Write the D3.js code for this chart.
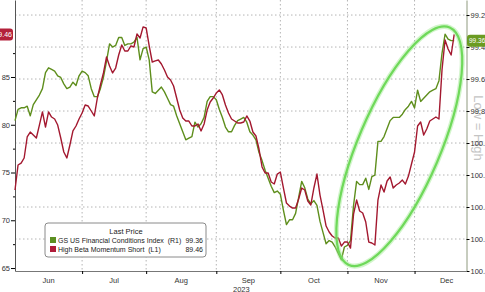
<!DOCTYPE html>
<html lang="en">
<head>
<meta charset="UTF-8">
<title>FCI vs High Beta Momentum</title>
<script src="https://cdn.jsdelivr.net/npm/d3@7/dist/d3.min.js"></script>
<style>
  body { margin: 0; background: #fff; }
  svg { display: block; font-family: "Liberation Sans", Arial, sans-serif; }
</style>
</head>
<body>
<script>
// business days, Jun 1 -> Dec 20 2023
var dates = [
  "2023-06-01","2023-06-02","2023-06-05","2023-06-06","2023-06-07","2023-06-08","2023-06-09","2023-06-12","2023-06-13","2023-06-14","2023-06-15","2023-06-16","2023-06-19","2023-06-20","2023-06-21","2023-06-22","2023-06-23","2023-06-26","2023-06-27","2023-06-28","2023-06-29","2023-06-30",
  "2023-07-03","2023-07-04","2023-07-05","2023-07-06","2023-07-07","2023-07-10","2023-07-11","2023-07-12","2023-07-13","2023-07-14","2023-07-17","2023-07-18","2023-07-19","2023-07-20","2023-07-21","2023-07-24","2023-07-25","2023-07-26","2023-07-27","2023-07-28","2023-07-31",
  "2023-08-01","2023-08-02","2023-08-03","2023-08-04","2023-08-07","2023-08-08","2023-08-09","2023-08-10","2023-08-11","2023-08-14","2023-08-15","2023-08-16","2023-08-17","2023-08-18","2023-08-21","2023-08-22","2023-08-23","2023-08-24","2023-08-25","2023-08-28","2023-08-29","2023-08-30","2023-08-31",
  "2023-09-01","2023-09-04","2023-09-05","2023-09-06","2023-09-07","2023-09-08","2023-09-11","2023-09-12","2023-09-13","2023-09-14","2023-09-15","2023-09-18","2023-09-19","2023-09-20","2023-09-21","2023-09-22","2023-09-25","2023-09-26","2023-09-27","2023-09-28","2023-09-29",
  "2023-10-02","2023-10-03","2023-10-04","2023-10-05","2023-10-06","2023-10-09","2023-10-10","2023-10-11","2023-10-12","2023-10-13","2023-10-16","2023-10-17","2023-10-18","2023-10-19","2023-10-20","2023-10-23","2023-10-24","2023-10-25","2023-10-26","2023-10-27","2023-10-30","2023-10-31",
  "2023-11-01","2023-11-02","2023-11-03","2023-11-06","2023-11-07","2023-11-08","2023-11-09","2023-11-10","2023-11-13","2023-11-14","2023-11-15","2023-11-16","2023-11-17","2023-11-20","2023-11-21","2023-11-22","2023-11-23","2023-11-24","2023-11-27","2023-11-28","2023-11-29","2023-11-30",
  "2023-12-01","2023-12-04","2023-12-05","2023-12-06","2023-12-07","2023-12-08","2023-12-11","2023-12-12","2023-12-13","2023-12-14","2023-12-15","2023-12-18","2023-12-19","2023-12-20"
];

// GS US Financial Conditions Index (R1, inverted)
var fci = [
  99.86,99.79,99.78,99.78,99.77,99.83,99.76,99.73,99.70,99.66,99.56,99.53,99.54,99.55,99.58,99.59,99.63,99.66,99.65,99.62,99.64,99.58,
  99.55,99.56,99.58,99.66,99.71,99.71,99.66,99.59,99.49,99.38,99.40,99.39,99.34,99.34,99.39,99.38,99.38,99.37,99.34,99.48,99.41,
  99.40,99.48,99.68,99.69,99.67,99.65,99.68,99.72,99.76,99.77,99.83,99.88,99.93,99.98,99.97,99.96,99.87,99.90,99.88,99.84,99.74,99.71,99.71,
  99.73,99.79,99.84,99.90,99.93,99.93,99.89,99.86,99.85,99.84,99.87,99.93,99.95,99.98,100.06,100.11,100.17,100.22,100.27,100.31,100.30,
  100.32,100.42,100.51,100.48,100.48,100.44,100.34,100.24,100.28,100.35,100.38,100.36,100.39,100.49,100.56,100.63,100.61,100.62,100.65,100.69,100.73,100.65,
  100.64,100.61,100.39,100.24,100.26,100.26,100.22,100.29,100.21,100.20,99.99,99.99,99.96,99.91,99.86,99.84,99.84,99.84,99.82,99.79,99.77,99.74,
  99.78,99.67,99.74,99.72,99.70,99.68,99.67,99.66,99.61,99.44,99.32,99.35,99.36,99.36
];

// High Beta Momentum Short (L1)
var hbm = [
  73.17,75.79,75.99,76.52,78.72,79.24,78.93,78.61,79.97,81.34,79.76,81.34,80.81,80.60,79.97,78.61,77.15,76.52,77.88,79.35,79.87,80.60,
  81.23,82.07,81.96,81.44,80.92,82.80,84.16,85.42,87.09,86.15,85.42,85.94,87.30,88.35,87.72,87.72,88.25,88.14,89.50,89.08,90.24,
  90.13,88.25,86.57,86.68,86.78,86.36,85.73,85.00,84.69,84.06,82.80,81.54,80.71,80.39,80.39,79.87,79.87,80.08,79.35,80.08,81.54,82.38,82.80,
  83.32,83.64,83.12,82.07,81.23,80.60,80.39,80.18,80.18,80.29,80.92,80.39,79.24,78.82,77.46,75.58,74.95,74.95,74.01,73.80,74.84,
  75.05,73.38,71.81,71.49,71.28,71.28,72.23,73.38,73.17,72.02,71.60,73.38,74.84,72.64,71.07,69.40,68.77,68.35,68.14,68.14,67.30,67.72,
  67.72,67.09,70.65,72.12,70.97,70.76,69.82,67.72,67.62,67.41,72.12,73.69,72.96,74.11,74.53,73.38,73.69,73.90,74.21,73.80,74.63,75.89,
  77.15,79.87,80.29,78.93,79.55,80.39,80.60,80.81,80.60,85.73,88.87,87.93,87.30,89.46
];

var monthStarts = ["2023-06-01","2023-07-03","2023-08-01","2023-09-01","2023-10-02","2023-11-01","2023-12-01","2024-01-01"];
var monthLabels = ["Jun","Jul","Aug","Sep","Oct","Nov","Dec"];
var yearLabel = "2023";
var leftTicks = [65, 70, 75, 80, 85];
var leftMinor = [67.5, 72.5, 77.5, 82.5, 87.5];
var rightTicks = [99.2, 99.4, 99.6, 99.8, 100.0, 100.2, 100.4, 100.6, 100.8];
var legendNames = ["GS US Financial Conditions Index  (R1)", "High Beta Momentum Short  (L1)"];
var legendLast = ["99.36", "89.46"];

var width = 485, height = 292;
var green = '#5e8e1c', red = '#a3182f';

var svg = d3.select('body').append('svg')
  .attr('width', width)
  .attr('height', height);

var parse = d3.timeParse('%Y-%m-%d');
var day0 = parse(dates[0]);
// count of weekdays since the first date (the axis skips weekends)
function bizIndex(s) {
  return d3.timeDay.range(day0, parse(s)).filter(function(t) { return t.getDay() % 6 !== 0; }).length;
}

var xScale = d3.scaleLinear().domain([0, 148]).range([15, 466.4]);
var yLeft = d3.scaleLinear().domain([64.69, 93.06]).range([271, 0]);
var yRight = d3.scaleLinear().domain([99.106, 100.8]).range([0, 271]);

var monthIdx = monthStarts.map(bizIndex);

// grid
svg.append('g').selectAll('line')
  .data(rightTicks.slice(0, -1))
  .enter().append('line')
  .attr('x1', 15).attr('x2', 466)
  .attr('y1', d => yRight(d)).attr('y2', d => yRight(d))
  .attr('stroke', '#b4b4b4').attr('stroke-width', 1)
  .attr('stroke-dasharray', '1.5,2.5');

svg.append('g').selectAll('line')
  .data(monthIdx.slice(1, -1))
  .enter().append('line')
  .attr('x1', d => xScale(d)).attr('x2', d => xScale(d))
  .attr('y1', 0).attr('y2', 271)
  .attr('stroke', '#b4b4b4').attr('stroke-width', 1)
  .attr('stroke-dasharray', '1.5,2.5');

// watermark for the inverted right axis (sits under the tick labels)
svg.append('text')
  .attr('transform', 'translate(474,128) rotate(90)')
  .attr('text-anchor', 'middle')
  .attr('font-size', 13).attr('fill', '#c4c4c4')
  .text('Low = High');

// axes
var leftAxis = svg.append('g')
  .attr('transform', 'translate(15,0)')
  .call(d3.axisLeft(yLeft).tickValues(leftTicks).tickSize(4).tickSizeOuter(0).tickFormat(d3.format('d')));
svg.append('g')
  .attr('transform', 'translate(15,0)')
  .call(d3.axisLeft(yLeft).tickValues(leftMinor).tickSize(2).tickFormat(''))
  .select('.domain').remove();

var rightAxis = svg.append('g')
  .attr('transform', 'translate(466.5,0)')
  .call(d3.axisRight(yRight).tickValues(rightTicks).tickSize(3).tickSizeOuter(0).tickFormat(d3.format('.1f')));

var bottomAxis = svg.append('g')
  .attr('transform', 'translate(0,271)')
  .call(d3.axisBottom(xScale).tickValues(monthIdx.slice(1, -1)).tickSize(3).tickSizeOuter(0).tickFormat(''));

[leftAxis, rightAxis, bottomAxis].forEach(function(g) {
  g.selectAll('text').attr('font-size', 7.5).attr('fill', '#333').attr('font-family', '"Liberation Sans", Arial, sans-serif');
});
leftAxis.selectAll('text').attr('x', -5);
rightAxis.selectAll('text').attr('x', 4);
leftAxis.select('.domain').attr('stroke', '#555');
rightAxis.select('.domain').attr('stroke', '#8f9a7e');
bottomAxis.select('.domain').attr('stroke', '#777');

svg.append('g').selectAll('text')
  .data(monthLabels)
  .enter().append('text')
  .attr('x', (d, i) => xScale((monthIdx[i] + monthIdx[i + 1]) / 2))
  .attr('y', 283)
  .attr('text-anchor', 'middle')
  .attr('font-size', 7.5).attr('fill', '#333')
  .text(d => d);

svg.append('text')
  .attr('x', xScale((monthIdx[3] + monthIdx[4]) / 2) - 7)
  .attr('y', 291.5)
  .attr('text-anchor', 'middle')
  .attr('font-size', 7.5).attr('fill', '#333')
  .text(yearLabel);

// series
var fciLine = d3.line()
  .x((d, i) => xScale(bizIndex(dates[i])))
  .y(d => yRight(d));
var hbmLine = d3.line()
  .x((d, i) => xScale(bizIndex(dates[i])))
  .y(d => yLeft(d));

svg.append('path').datum(fci)
  .attr('d', fciLine)
  .attr('fill', 'none').attr('stroke', green).attr('stroke-width', 1.4)
  .attr('stroke-linejoin', 'round');
svg.append('path').datum(hbm)
  .attr('d', hbmLine)
  .attr('fill', 'none').attr('stroke', red).attr('stroke-width', 1.4)
  .attr('stroke-linejoin', 'round');

// highlight ellipse round the late rally
var ellCx = xScale(bizIndex("2023-11-24")), ellCy = yRight(100.02);
var ell = svg.append('g').attr('transform', 'translate(' + ellCx + ',' + ellCy + ') rotate(-67)');
ell.append('ellipse').attr('rx', 129).attr('ry', 41)
  .attr('fill', 'none').attr('stroke', '#9be88c').attr('stroke-width', 5).attr('opacity', 0.45);
ell.append('ellipse').attr('rx', 129).attr('ry', 41)
  .attr('fill', 'none').attr('stroke', '#6fd95a').attr('stroke-width', 2.2);

// last price badges
var lastR = yLeft(hbm[hbm.length - 1]);
svg.append('rect')
  .attr('x', -12).attr('y', lastR - 6).attr('width', 25).attr('height', 12).attr('rx', 3)
  .attr('fill', '#b3213b');
svg.append('text')
  .attr('x', 12).attr('y', lastR + 2.5)
  .attr('text-anchor', 'end')
  .attr('font-size', 7).attr('fill', '#fff')
  .text(legendLast[1]);

var lastG = yRight(fci[fci.length - 1]);
svg.append('rect')
  .attr('x', 467).attr('y', lastG - 6).attr('width', 24).attr('height', 12).attr('rx', 3)
  .attr('fill', '#6b9b22');
svg.append('text')
  .attr('x', 469).attr('y', lastG + 2.5)
  .attr('font-size', 6.5).attr('fill', '#fff')
  .text(legendLast[0]);

// legend
var lg = svg.append('g').attr('transform', 'translate(45,223)');
lg.append('rect')
  .attr('x', 0).attr('y', 0).attr('width', 161).attr('height', 34).attr('rx', 3)
  .attr('fill', '#fff').attr('stroke', '#8a8a8a').attr('stroke-width', 1);
lg.append('text')
  .attr('x', 81).attr('y', 11)
  .attr('text-anchor', 'middle')
  .attr('font-size', 7.5).attr('fill', '#222')
  .text('Last Price');
[green, red].forEach(function(c, i) {
  lg.append('rect')
    .attr('x', 5).attr('y', 14 + i * 9).attr('width', 6).attr('height', 6)
    .attr('fill', i === 0 ? '#5c8f22' : '#b01c3a');
  lg.append('text')
    .attr('x', 13).attr('y', 20 + i * 9)
    .attr('font-size', 7).attr('fill', '#222')
    .attr('xml:space', 'preserve')
    .text(legendNames[i]);
  lg.append('text')
    .attr('x', 158).attr('y', 20 + i * 9)
    .attr('text-anchor', 'end')
    .attr('font-size', 7).attr('fill', '#222')
    .text(legendLast[i]);
});
</script>
</body>
</html>
